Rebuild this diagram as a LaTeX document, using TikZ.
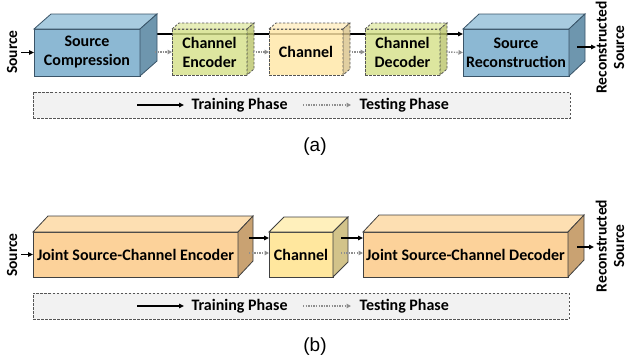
\documentclass[tikz,border=0pt]{standalone}
\usepackage{fontspec}
\setmainfont{Carlito}
\newfontfamily\capfont{Liberation Sans}
\usetikzlibrary{arrows.meta,calc}
\definecolor{blueF}{HTML}{8CB8D3}
\definecolor{blueT}{HTML}{A8CBDF}
\definecolor{blueS}{HTML}{6E96AE}
\definecolor{blueB}{HTML}{3A5468}
\definecolor{grnF}{HTML}{D5E18A}
\definecolor{grnT}{HTML}{E2EAAA}
\definecolor{grnS}{HTML}{BCC66E}
\definecolor{ylwF}{HTML}{FFE6A6}
\definecolor{ylwT}{HTML}{FFEEC2}
\definecolor{ylwS}{HTML}{DAC48C}
\definecolor{orF}{HTML}{FCD29A}
\definecolor{orT}{HTML}{FDDFB2}
\definecolor{orS}{HTML}{C9A272}
\definecolor{chF}{HTML}{FFE79E}
\definecolor{chT}{HTML}{FFF0BC}
\definecolor{chS}{HTML}{D2C38A}
\definecolor{legF}{HTML}{F2F2F2}
\definecolor{dashC}{HTML}{555555}
\definecolor{testC}{HTML}{8E8E8E}
\tikzset{
  cubefront/.style={draw, inner sep=0pt, outer sep=0pt, align=center,
     font=\fontsize{16}{19}\selectfont\bfseries},
  solidbox/.style={draw=blueB, line width=0.8pt},
  obox/.style={draw=black!75, line width=0.8pt},
  dashbox/.style={draw=dashC, line width=0.8pt, dash pattern=on 2.5pt off 1.5pt, fill opacity=0.82, text opacity=1},
  trainarrow/.style={draw=black, line width=1.4pt, -{Triangle[length=5pt,width=4.5pt]}},
  testarrow/.style={draw=testC, line width=1.4pt, dash pattern=on 1.3pt off 1.3pt, -{Triangle[length=4.5pt,width=4.5pt]}},
  sidelabel/.style={rotate=90, align=center, inner sep=1pt, font=\fontsize{15.5}{17.5}\selectfont\bfseries},
  legendbox/.style={draw=dashC, fill=legF, line width=0.8pt, dash pattern=on 2.5pt off 1.5pt},
  legtext/.style={anchor=west, font=\fontsize{16}{18}\selectfont\bfseries},
  caplabel/.style={font=\capfont\fontsize{19}{22}\selectfont},
}
% #1 name, #2 position, #3 width, #4 height, #5 dx, #6 dy, #7 front, #8 top, #9 side ; style via \cubestyle
\newcommand\mkcube[9]{%
  \node[cubefront, \cubestyle, minimum width=#3, minimum height=#4, fill=#7] (#1) at #2 {\cubetext};
  \path[\cubestyle, fill=#8] (#1.north west) -- ++(#5,-#6) -- ($(#1.north east)+(#5,-#6)$) -- (#1.north east) -- cycle;
  \path[\cubestyle, fill=#9] (#1.north east) -- ++(#5,-#6) -- ($(#1.south east)+(#5,-#6)$) -- (#1.south east) -- cycle;
}
\begin{document}
\begin{tikzpicture}[x=1pt,y=-1pt]
\useasboundingbox (0,0) rectangle (629,364);

% ---------- (a) ----------
\coordinate (ta) at (157,34);
\coordinate (srIn) at (463,34);
\draw[trainarrow] (ta) -- (srIn);

\def\cubestyle{solidbox}\def\cubetext{Source\\Compression}
\mkcube{sc}{(87,52.5)}{106pt}{47pt}{17}{15}{blueF}{blueT}{blueS}
\def\cubestyle{dashbox}\def\cubetext{Channel\\Encoder}
\mkcube{ce}{(209.5,52)}{75pt}{46pt}{7}{6}{grnF}{grnT}{grnS}
\def\cubetext{Channel}
\mkcube{ch}{(306,52)}{74pt}{46pt}{7}{6}{ylwF}{ylwT}{ylwS}
\def\cubetext{Channel\\Decoder}
\mkcube{cd}{(402.5,52)}{75pt}{46pt}{7}{6}{grnF}{grnT}{grnS}
\def\cubestyle{solidbox}\def\cubetext{Source\\Reconstruction}
\mkcube{sr}{(516,52.5)}{106pt}{47pt}{16}{15}{blueF}{blueT}{blueS}

\node[sidelabel] (srcA) at (12,52) {Source};
\node[sidelabel] (recA) at (610,47.5) {Reconstructed\\Source};
\draw[trainarrow] (srcA.south |- sc.west) ++(3,0) -- (sc.west);
\coordinate (scOut) at (155,52);
\coordinate (ceOut) at (253,52);
\coordinate (chOut) at (349,52);
\coordinate (cdOut) at (446,52);
\draw[testarrow] (scOut) -- (ce.west);
\draw[testarrow] (ceOut) -- (ch.west);
\draw[testarrow] (chOut) -- (cd.west);
\draw[testarrow] (cdOut) -- (sr.west);
\coordinate (srOut) at (577,47);
\coordinate (recAin) at (596,47);
\draw[trainarrow] (srOut) -- (recAin);

\node[legendbox, minimum width=537pt, minimum height=26pt, inner sep=0pt] (legA) at (301.5,105) {};
\coordinate (la1) at (137,105); \coordinate (la2) at (184,105);
\coordinate (la3) at (303,105); \coordinate (la4) at (351,105);
\draw[trainarrow] (la1) -- (la2);
\draw[testarrow] (la3) -- (la4);
\node[legtext] (trA) at (188,105) {Training Phase};
\node[legtext] (teA) at (356,105) {Testing Phase};
\node[caplabel] (capA) at (315,147) {(a)};

% ---------- (b) ----------
\def\cubestyle{obox}\def\cubetext{Joint Source-Channel Encoder}
\mkcube{je}{(135.5,254.5)}{205pt}{45pt}{15}{16}{orF}{orT}{orS}
\def\cubetext{Channel}
\mkcube{cb}{(301,254.5)}{64pt}{45pt}{15}{15}{chF}{chT}{chS}
\def\cubetext{Joint Source-Channel Decoder}
\mkcube{jd}{(465.5,254.5)}{205pt}{45pt}{16}{17}{orF}{orT}{orS}

\node[sidelabel] (srcB) at (12,255) {Source};
\node[sidelabel] (recB) at (610,246) {Reconstructed\\Source};
\draw[trainarrow] (srcB.south |- je.west) ++(3,0) -- (je.west);
\coordinate (jeT) at (249,238); \coordinate (cbTin) at (269,238);
\coordinate (cbT) at (341,238); \coordinate (jdTin) at (363,238);
\draw[trainarrow] (jeT) -- (cbTin);
\draw[trainarrow] (cbT) -- (jdTin);
\coordinate (jeD) at (249,253); \coordinate (cbDin) at (269,253);
\coordinate (cbD) at (341,253); \coordinate (jdDin) at (363,253);
\draw[testarrow] (jeD) -- (cbDin);
\draw[testarrow] (cbD) -- (jdDin);
\coordinate (jdOut) at (577,247); \coordinate (recBin) at (594,247);
\draw[trainarrow] (jdOut) -- (recBin);

\node[legendbox, minimum width=536pt, minimum height=26pt, inner sep=0pt] (legB) at (301,306) {};
\coordinate (lb1) at (137,306); \coordinate (lb2) at (184,306);
\coordinate (lb3) at (303,306); \coordinate (lb4) at (351,306);
\draw[trainarrow] (lb1) -- (lb2);
\draw[testarrow] (lb3) -- (lb4);
\node[legtext] (trB) at (188,306) {Training Phase};
\node[legtext] (teB) at (356,306) {Testing Phase};
\node[caplabel] (capB) at (315,347) {(b)};
\end{tikzpicture}
\end{document}
